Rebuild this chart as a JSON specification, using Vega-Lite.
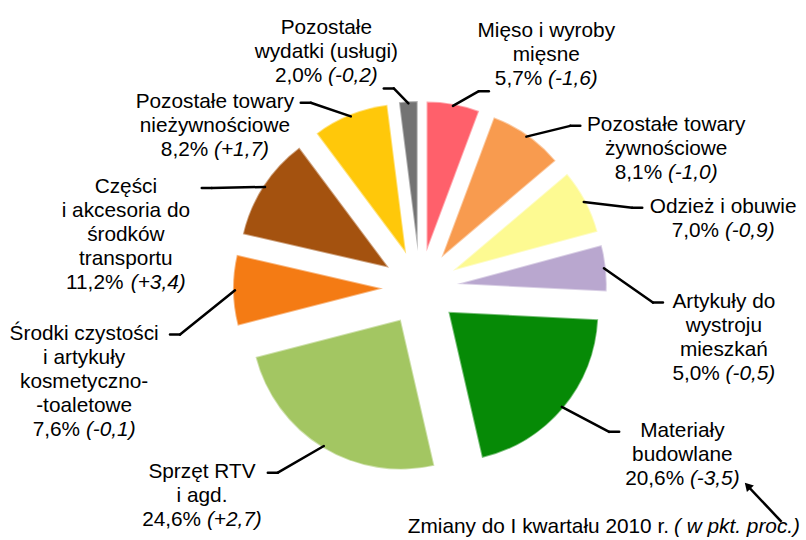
{
  "$schema": "https://vega.github.io/schema/vega-lite/v6.json",
  "width": 806,
  "height": 540,
  "padding": 0,
  "autosize": {"type": "fit", "contains": "padding"},
  "background": "white",
  "config": {"view": {"stroke": null}, "font": "Liberation Sans"},
  "data": {
    "values": [
      {"category": "Mięso i wyroby\nmięsne", "share": 5.7, "change": -1.6},
      {"category": "Pozostałe towary\nżywnościowe", "share": 8.1, "change": -1.0},
      {"category": "Odzież i obuwie", "share": 7.0, "change": -0.9},
      {"category": "Artykuły do\nwystroju\nmieszkań", "share": 5.0, "change": -0.5},
      {"category": "Materiały\nbudowlane", "share": 20.6, "change": -3.5},
      {"category": "Sprzęt RTV\ni agd.", "share": 24.6, "change": 2.7},
      {"category": "Środki czystości\ni artykuły\nkosmetyczno-\n-toaletowe", "share": 7.6, "change": -0.1},
      {"category": "Części\ni akcesoria do\nśrodków\ntransportu", "share": 11.2, "change": 3.4},
      {"category": "Pozostałe towary\nnieżywnościowe", "share": 8.2, "change": 1.7},
      {"category": "Pozostałe\nwydatki (usługi)", "share": 2.0, "change": -0.2}
    ]
  },
  "transform": [
    {"window": [{"op": "sum", "field": "share", "as": "cum"}], "frame": [null, 0]},
    {"calculate": "datum.cum - datum.share", "as": "start"},
    {"calculate": "(datum.cum - datum.share / 2) / 100 * 2 * PI", "as": "a"},
    {"calculate": "sin(datum.a)", "as": "sx"},
    {"calculate": "cos(datum.a)", "as": "cy"},
    {"calculate": "datum.sx < 0 ? -1 : 1", "as": "side"},
    {"calculate": "37 * datum.sx", "as": "ex"},
    {"calculate": "-37 * datum.cy", "as": "ey"},
    {"calculate": "185 * datum.sx", "as": "x0"},
    {"calculate": "-185 * datum.cy", "as": "y0"},
    {"calculate": "(datum.sx < 0 ? 240 : 234) * datum.side * pow(abs(datum.sx), 0.8)", "as": "lx"},
    {"calculate": "-(datum.cy < 0 ? 215 : 200) * datum.cy + 45 * pow(1 - abs(datum.cy), 2)", "as": "ly"},
    {"calculate": "datum.lx + 10 * datum.side", "as": "tx"},
    {"calculate": "abs(datum.sx) < 0.3", "as": "top"},
    {"calculate": "split(datum.category, '\\n')", "as": "lines"},
    {"calculate": "length(datum.lines)", "as": "nName"},
    {"calculate": "max(length(datum.lines[0] || ''), length(datum.lines[1] || ''), length(datum.lines[2] || ''), length(datum.lines[3] || ''))", "as": "maxChars"},
    {"calculate": "replace(format(datum.share, '.1f'), '.', ',') + '%'", "as": "shareText"},
    {"calculate": "'(' + replace(replace(format(datum.change, '+.1f'), '.', ','), '\\u2212', '-') + ')'", "as": "changeText"},
    {"calculate": "(datum.share >= 10 ? 2.835 : 2.279) * 20.8", "as": "wShare"},
    {"calculate": "(datum.change >= 0 ? 2.64 : 2.389) * 20.8", "as": "wChange"},
    {"calculate": "datum.wShare + 0.278 * 20.8 + datum.wChange", "as": "wLine"},
    {"calculate": "max(datum.maxChars * 0.48 * 20.8, datum.wLine) / 2", "as": "hw"},
    {"calculate": "datum.top ? datum.lx + datum.side * (16 + datum.wLine / 2) : datum.lx + datum.side * (16 + datum.hw)", "as": "cxl"},
    {"calculate": "datum.top ? datum.ly - 6 - datum.nName * 24 : datum.ly + 5", "as": "yFirst"},
    {"calculate": "datum.yFirst + datum.nName * 24", "as": "yLast"},
    {"calculate": "datum.cxl - datum.wLine / 2", "as": "xShare"},
    {"calculate": "datum.xShare + datum.wShare + 0.278 * 20.8", "as": "xChange"}
  ],
  "layer": [
    {
      "mark": {"type": "arc", "outerRadius": 150, "innerRadius": 0, "stroke": "#ffffff", "strokeWidth": 2, "strokeOpacity": 0.45, "strokeJoin": "round"},
      "encoding": {
        "x": {"field": "ex", "type": "quantitative", "scale": {"domain": [-420, 386], "nice": false, "zero": false}, "axis": null},
        "y": {"field": "ey", "type": "quantitative", "scale": {"domain": [-288, 252], "nice": false, "zero": false, "reverse": true}, "axis": null},
        "theta": {"field": "start", "type": "quantitative", "scale": {"domain": [0, 100], "range": [0, 6.283185307]}},
        "theta2": {"field": "cum"},
        "color": {
          "field": "category", "type": "nominal", "legend": null,
          "scale": {
            "domain": ["Mięso i wyroby\nmięsne", "Pozostałe towary\nżywnościowe", "Odzież i obuwie", "Artykuły do\nwystroju\nmieszkań", "Materiały\nbudowlane", "Sprzęt RTV\ni agd.", "Środki czystości\ni artykuły\nkosmetyczno-\n-toaletowe", "Części\ni akcesoria do\nśrodków\ntransportu", "Pozostałe towary\nnieżywnościowe", "Pozostałe\nwydatki (usługi)"],
            "range": ["#ff606b", "#f89b4f", "#fdfa92", "#b9a7cf", "#068a06", "#a3c662", "#f47b14", "#a4520f", "#ffc80a", "#737373"]
          }
        }
      }
    },
    {
      "mark": {"type": "rule", "stroke": "black", "strokeWidth": 2.5, "strokeCap": "round"},
      "encoding": {
        "x": {"field": "x0", "type": "quantitative"},
        "y": {"field": "y0", "type": "quantitative"},
        "x2": {"field": "lx"},
        "y2": {"field": "ly"}
      }
    },
    {
      "mark": {"type": "rule", "stroke": "black", "strokeWidth": 2.5, "strokeCap": "round"},
      "encoding": {
        "x": {"field": "lx", "type": "quantitative"},
        "y": {"field": "ly", "type": "quantitative"},
        "x2": {"field": "tx"},
        "y2": {"field": "ly"}
      }
    },
    {
      "mark": {"type": "text", "align": "center", "baseline": "alphabetic", "lineBreak": "\n", "lineHeight": 24, "fontSize": 20.8, "font": "Liberation Sans", "color": "black"},
      "encoding": {
        "x": {"field": "cxl", "type": "quantitative"},
        "y": {"field": "yFirst", "type": "quantitative"},
        "text": {"field": "category", "type": "nominal"}
      }
    },
    {
      "mark": {"type": "text", "align": "left", "baseline": "alphabetic", "fontSize": 20.8, "font": "Liberation Sans", "color": "black"},
      "encoding": {
        "x": {"field": "xShare", "type": "quantitative"},
        "y": {"field": "yLast", "type": "quantitative"},
        "text": {"field": "shareText", "type": "nominal"}
      }
    },
    {
      "mark": {"type": "text", "align": "left", "baseline": "alphabetic", "fontSize": 20.8, "font": "Liberation Sans", "fontStyle": "italic", "color": "black"},
      "encoding": {
        "x": {"field": "xChange", "type": "quantitative"},
        "y": {"field": "yLast", "type": "quantitative"},
        "text": {"field": "changeText", "type": "nominal"}
      }
    },
    {
      "transform": [
        {"filter": "indexof(datum.category, 'Materiały') == 0"},
        {"calculate": "datum.xChange + datum.wChange + 8", "as": "tipX"},
        {"calculate": "datum.yLast + 1", "as": "tipY"},
        {"calculate": "datum.tipX + 34", "as": "tailX"},
        {"calculate": "datum.tipY + 36", "as": "tailY"}
      ],
      "layer": [
        {
          "mark": {"type": "rule", "stroke": "black", "strokeWidth": 2.5},
          "encoding": {
            "x": {"field": "tipX", "type": "quantitative"},
            "y": {"field": "tipY", "type": "quantitative"},
            "x2": {"field": "tailX"},
            "y2": {"field": "tailY"}
          }
        },
        {
          "mark": {"type": "point", "shape": "triangle-up", "filled": true, "color": "black", "size": 90, "opacity": 1, "angle": 317},
          "encoding": {
            "x": {"field": "tipX", "type": "quantitative"},
            "y": {"field": "tipY", "type": "quantitative"}
          }
        }
      ]
    },
    {
      "data": {"values": [{"note": "Zmiany do I kwartału 2010 r.", "unit": "( w pkt. proc.)"}]},
      "layer": [
        {
          "mark": {"type": "text", "align": "right", "baseline": "alphabetic", "fontSize": 20.8, "font": "Liberation Sans", "color": "black", "dx": -137, "dy": -7},
          "encoding": {
            "x": {"value": "width"},
            "y": {"value": "height"},
            "text": {"field": "note", "type": "nominal"}
          }
        },
        {
          "mark": {"type": "text", "align": "right", "baseline": "alphabetic", "fontSize": 20.8, "font": "Liberation Sans", "fontStyle": "italic", "color": "black", "dx": -6, "dy": -7},
          "encoding": {
            "x": {"value": "width"},
            "y": {"value": "height"},
            "text": {"field": "unit", "type": "nominal"}
          }
        }
      ]
    }
  ]
}
